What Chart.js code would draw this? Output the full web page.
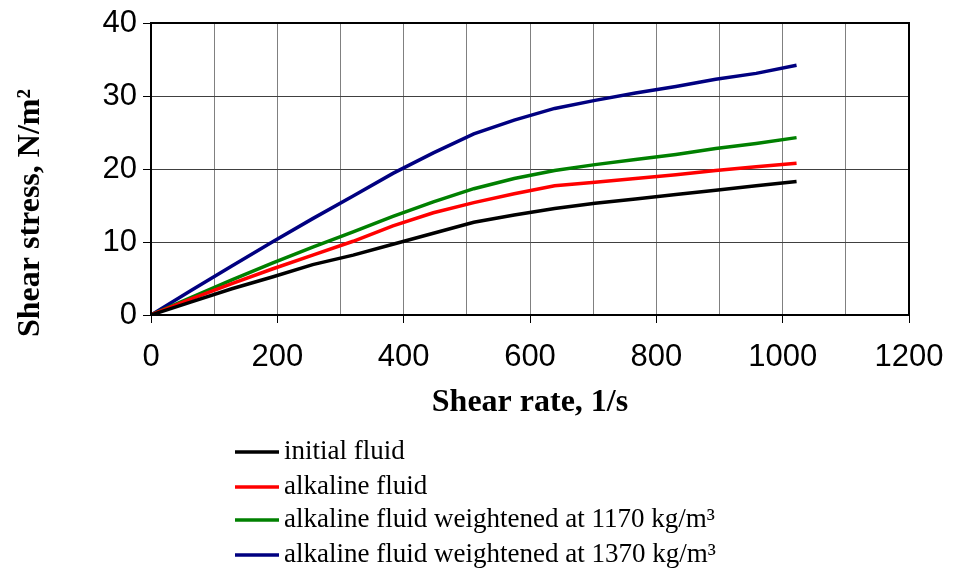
<!DOCTYPE html>
<html>
<head>
<meta charset="utf-8">
<script src="https://cdn.jsdelivr.net/npm/chart.js@4.4.1/dist/chart.umd.min.js"></script>
<style>
  html, body { margin: 0; padding: 0; background: #fff; }
  #wrap { width: 953px; height: 569px; position: relative; }
</style>
</head>
<body>
<div id="wrap"><canvas id="chart"></canvas></div>
<script>
// shear rate points, 1/s
const shearRate = [0, 64, 128, 192, 256, 320, 383, 447, 511, 575, 639, 703, 767, 831, 894, 958, 1022];

// shear stress, N/m2
const initialFluid = [0, 1.8, 3.6, 5.2, 6.9, 8.2, 9.7, 11.2, 12.7, 13.7, 14.6, 15.3, 15.9, 16.5, 17.1, 17.7, 18.3];
const alkalineFluid = [0, 2.2, 4.3, 6.3, 8.2, 10.1, 12.2, 14.0, 15.4, 16.6, 17.7, 18.2, 18.7, 19.2, 19.8, 20.3, 20.8];
const weighted1170 = [0, 2.4, 4.8, 7.1, 9.3, 11.4, 13.5, 15.5, 17.3, 18.7, 19.8, 20.6, 21.3, 22.0, 22.8, 23.5, 24.3];
const weighted1370 = [0, 3.4, 6.7, 10.0, 13.2, 16.3, 19.4, 22.2, 24.8, 26.7, 28.3, 29.4, 30.4, 31.3, 32.3, 33.1, 34.2];

const seriesNames = [
  'initial fluid',
  'alkaline fluid',
  'alkaline fluid weightened at 1170 kg/m³',
  'alkaline fluid weightened at 1370 kg/m³'
];
const seriesColors = ['#000000', '#ff0000', '#008000', '#000080'];
const seriesValues = [initialFluid, alkalineFluid, weighted1170, weighted1370];

const toPoints = vals => vals.map((v, i) => ({ x: shearRate[i], y: v }));

const datasets = seriesValues.map((vals, i) => ({
  label: seriesNames[i],
  data: toPoints(vals),
  borderColor: seriesColors[i],
  backgroundColor: seriesColors[i],
  borderWidth: 3.5,
  pointRadius: 0,
  tension: 0,
  fill: false
}));

// titles, legend and plot frame
const decorations = {
  id: 'decorations',
  afterDraw(chart) {
    const ctx = chart.ctx;
    const a = chart.chartArea;
    ctx.save();
    // frame
    ctx.strokeStyle = '#000';
    ctx.lineWidth = 2;
    ctx.strokeRect(a.left, a.top, a.right - a.left, a.bottom - a.top);

    // x title
    ctx.fillStyle = '#000';
    ctx.font = 'bold 32px "Liberation Serif"';
    ctx.textAlign = 'center';
    ctx.textBaseline = 'middle';
    ctx.fillText('Shear rate, 1/s', 530, 403);

    // y title
    ctx.save();
    ctx.translate(31, 213);
    ctx.rotate(-Math.PI / 2);
    ctx.fillText('Shear stress, N/m²', 0, 0);
    ctx.restore();

    // legend
    const rows = [452, 487, 520, 555];
    ctx.font = '27px "Liberation Serif"';
    ctx.textAlign = 'left';
    chart.data.datasets.forEach((ds, i) => {
      const y = rows[i];
      ctx.strokeStyle = ds.borderColor;
      ctx.lineWidth = 3.5;
      ctx.beginPath();
      ctx.moveTo(235, y);
      ctx.lineTo(279, y);
      ctx.stroke();
      ctx.fillStyle = '#000';
      ctx.fillText(ds.label, 284, y);
    });
    ctx.restore();
  }
};

new Chart(document.getElementById('chart'), {
  type: 'line',
  data: { datasets },
  options: {
    responsive: true,
    maintainAspectRatio: false,
    animation: false,
    layout: { padding: { left: 0, top: 23, right: 44, bottom: 0 } },
    plugins: {
      legend: { display: false },
      tooltip: { enabled: false }
    },
    scales: {
      x: {
        type: 'linear',
        min: 0,
        max: 1200,
        afterFit: s => { s.height = 254; s.paddingLeft = 0; s.paddingRight = 0; },
        ticks: {
          stepSize: 100,
          color: '#000',
          font: { family: '"Liberation Sans"', size: 31 },
          padding: 16,
          maxRotation: 0,
          autoSkip: false,
          callback: v => (v % 200 === 0 ? v : '')
        },
        grid: {
          color: '#808080',
          lineWidth: 1,
          tickLength: 8,
          tickColor: c => (c.tick && c.tick.value % 200 === 0 ? '#000' : 'rgba(0,0,0,0)'),
          tickWidth: 1
        },
        border: { color: '#000', width: 2 }
      },
      y: {
        min: 0,
        max: 40,
        afterFit: s => { s.width = 151; s.paddingTop = 0; s.paddingBottom = 0; },
        ticks: {
          stepSize: 10,
          color: '#000',
          font: { family: '"Liberation Sans"', size: 31 },
          padding: 6
        },
        grid: {
          color: '#404040',
          lineWidth: 1,
          tickLength: 8,
          tickColor: '#000'
        },
        border: { color: '#000', width: 2 }
      }
    }
  },
  plugins: [decorations]
});
</script>
</body>
</html>
